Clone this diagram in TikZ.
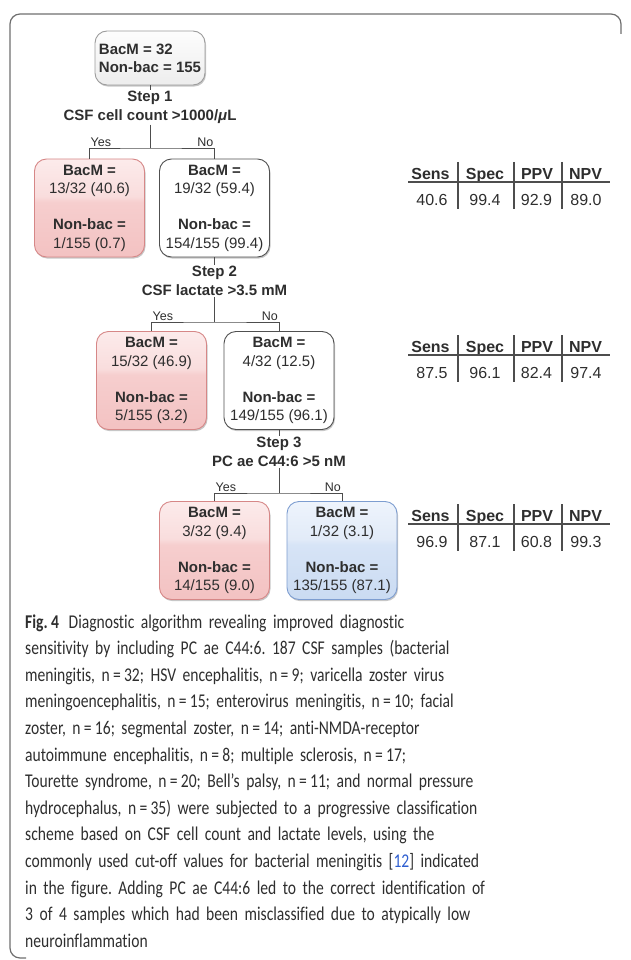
\documentclass[tikz,border=0pt]{standalone}
\usepackage{fontspec}
\setmainfont{Liberation Sans}
\newfontfamily\capfont[FakeStretch=0.8,RawFeature={-liga}]{Carlito}
\usetikzlibrary{shadows}
\definecolor{txt}{HTML}{2E2E2E}
\definecolor{ln}{HTML}{4D4D4D}
\definecolor{rtop}{HTML}{FCEBEB}
\definecolor{rmid}{HTML}{F9DDDD}
\definecolor{rlow}{HTML}{F6CECE}
\definecolor{rbot}{HTML}{F3C2C2}
\definecolor{rbrd}{HTML}{D68787}
\definecolor{btop}{HTML}{EEF4FC}
\definecolor{bmid}{HTML}{E2EBF8}
\definecolor{blow}{HTML}{D7E4F6}
\definecolor{bbot}{HTML}{CADBF2}
\definecolor{bbrd}{HTML}{7D9DD0}
\definecolor{gtop}{HTML}{FDFDFD}
\definecolor{gbot}{HTML}{EDEDED}
\definecolor{gbrd}{HTML}{9C9C9C}
\definecolor{wbrd}{HTML}{505050}
\definecolor{framec}{HTML}{6E6E6E}
\definecolor{citec}{HTML}{2F5FD0}
\pgfdeclareverticalshading{redgloss}{100bp}{color(0bp)=(rbot); color(25bp)=(rbot); color(53bp)=(rlow); color(56bp)=(rmid); color(75bp)=(rtop); color(100bp)=(rtop)}
\pgfdeclareverticalshading{bluegloss}{100bp}{color(0bp)=(bbot); color(25bp)=(bbot); color(53bp)=(blow); color(56bp)=(bmid); color(75bp)=(btop); color(100bp)=(btop)}
\pgfdeclareverticalshading{graygloss}{100bp}{color(0bp)=(gbot); color(25bp)=(gbot); color(75bp)=(gtop); color(100bp)=(gtop)}
\tikzset{
  box/.style={rounded corners=12pt, minimum width=110pt, minimum height=98pt, line width=0.9pt, inner sep=0pt,
    align=center, font=\fontsize{15}{18.5}\selectfont, text=txt,
    drop shadow={shadow xshift=1pt, shadow yshift=-1.6pt, opacity=0.22, fill=black}},
  redbox/.style={box, draw=rbrd, shade, shading=redgloss},
  bluebox/.style={box, draw=bbrd, shade, shading=bluegloss},
  whitebox/.style={box, draw=wbrd, fill=white},
  topbox/.style={box, minimum height=54pt, draw=gbrd, shade, shading=graygloss, align=left, font=\bfseries\fontsize{15}{18}\selectfont},
  steptext/.style={align=center, font=\bfseries\fontsize{15}{18.5}\selectfont, text=txt, inner sep=1pt},
  yn/.style={font=\fontsize{12.5}{14}\selectfont, text=txt, inner sep=1pt},
  tree/.style={draw=ln, line width=0.9pt},
  th/.style={font=\bfseries\fontsize{16}{18}\selectfont, text=txt, anchor=base, inner sep=0pt},
  tv/.style={font=\fontsize{16}{18}\selectfont, text=txt, anchor=base, inner sep=0pt},
  tl/.style={draw=ln, line width=1.1pt},
  capstyle/.style={font=\capfont\fontsize{19.5}{26.6}\selectfont\frenchspacing, text=txt, align=left, text width=595pt, inner sep=0pt}
}
\begin{document}
\begin{tikzpicture}[x=1pt, y=-1pt]
\useasboundingbox (0,0) rectangle (630,960);
% outer frame
\draw[draw=framec, line width=1.2pt, rounded corners=10pt] (621,34) -- (621,14) -- (10,14) -- (10,958) -- (26,958);

% top box
\node[topbox] (top) at (150,58) {BacM = 32\\Non-bac = 155};
\node[steptext] (s1) at (150,107.5) {Step 1\\CSF cell count >1000/\textit{μ}L};
\coordinate (j1) at (150,148);

% level 1
\node[redbox] (b1l) at (89.5,208) {\textbf{BacM =}\\13/32 (40.6)\\[17.5pt]\textbf{Non-bac =}\\1/155 (0.7)};
\node[whitebox] (b1r) at (214.5,208) {\textbf{BacM =}\\19/32 (59.4)\\[17.5pt]\textbf{Non-bac =}\\154/155 (99.4)};
\draw[tree] (top.south) -- (s1.north);
\draw[tree] (s1.south) -- (j1);
\draw[tree] (b1l.north) |- (j1) -| (b1r.north);
\node[yn, anchor=south west] (y1) at (b1l.north |- j1) {Yes};
\node[yn, anchor=south east] (n1) at (b1r.north |- j1) {No};

% level 2
\node[steptext] (s2) at (214.5,281) {Step 2\\CSF lactate >3.5 mM};
\coordinate (j2) at (214.5,322);
\node[redbox] (b2l) at (151.5,380.5) {\textbf{BacM =}\\15/32 (46.9)\\[17.5pt]\textbf{Non-bac =}\\5/155 (3.2)};
\node[whitebox] (b2r) at (279,380.5) {\textbf{BacM =}\\4/32 (12.5)\\[17.5pt]\textbf{Non-bac =}\\149/155 (96.1)};
\draw[tree] (b1r.south) -- (s2.north);
\draw[tree] (s2.south) -- (j2);
\draw[tree] (b2l.north) |- (j2) -| (b2r.north);
\node[yn, anchor=south west] (y2) at (b2l.north |- j2) {Yes};
\node[yn, anchor=south east] (n2) at (b2r.north |- j2) {No};

% level 3
\node[steptext] (s3) at (279,452) {Step 3\\PC ae C44:6 >5 nM};
\coordinate (j3) at (279,493);
\node[redbox] (b3l) at (214.5,550.5) {\textbf{BacM =}\\3/32 (9.4)\\[17.5pt]\textbf{Non-bac =}\\14/155 (9.0)};
\node[bluebox] (b3r) at (342,550.5) {\textbf{BacM =}\\1/32 (3.1)\\[17.5pt]\textbf{Non-bac =}\\135/155 (87.1)};
\draw[tree] (b2r.south) -- (s3.north);
\draw[tree] (s3.south) -- (j3);
\draw[tree] (b3l.north) |- (j3) -| (b3r.north);
\node[yn, anchor=south west] (y3) at (b3l.north |- j3) {Yes};
\node[yn, anchor=south east] (n3) at (b3r.north |- j3) {No};

% tables
\foreach \L/\k/\va/\vb/\vc/\vd in {182/1/40.6/99.4/92.9/89.0, 355/2/87.5/96.1/82.4/97.4, 524/3/96.9/87.1/60.8/99.3}{
  \node[th] (sens\k) at (430.5,\L-3) {Sens};
  \node[th] (spec\k) at (485,\L-3) {Spec};
  \node[th] (ppv\k) at (537,\L-3) {PPV};
  \node[th] (npv\k) at (585.5,\L-3) {NPV};
  \node[tv] (vsens\k) at (432,\L+23.5) {\va};
  \node[tv] (vspec\k) at (485,\L+23.5) {\vb};
  \node[tv] (vppv\k) at (536.5,\L+23.5) {\vc};
  \node[tv] (vnpv\k) at (586,\L+23.5) {\vd};
  \draw[tl] (408,\L) -- (610,\L);
  \draw[tl] (458,\L-20) -- (458,\L+27);
  \draw[tl] (514,\L-20) -- (514,\L+27);
  \draw[tl] (562,\L-20) -- (562,\L+27);
}

% caption
\node[capstyle, anchor=base west] (cap) at (25,628) {%
{\bfseries Fig.\,4}\enspace Diagnostic algorithm revealing improved diagnostic\\
sensitivity by including PC ae C44:6. 187 CSF samples (bacterial\\
meningitis, n\,=\,32; HSV encephalitis, n\,=\,9; varicella zoster virus\\
meningoencephalitis, n\,=\,15; enterovirus meningitis, n\,=\,10; facial\\
zoster, n\,=\,16; segmental zoster, n\,=\,14; anti-NMDA-receptor\\
autoimmune encephalitis, n\,=\,8; multiple sclerosis, n\,=\,17;\\
Tourette syndrome, n\,=\,20; Bell’s palsy, n\,=\,11; and normal pressure\\
hydrocephalus, n\,=\,35) were subjected to a progressive classification\\
scheme based on CSF cell count and lactate levels, using the\\
commonly used cut-off values for bacterial meningitis [\textcolor{citec}{12}] indicated\\
in the figure. Adding PC ae C44:6 led to the correct identification of\\
3 of 4 samples which had been misclassified due to atypically low\\
neuroinflammation};
\end{tikzpicture}
\end{document}
